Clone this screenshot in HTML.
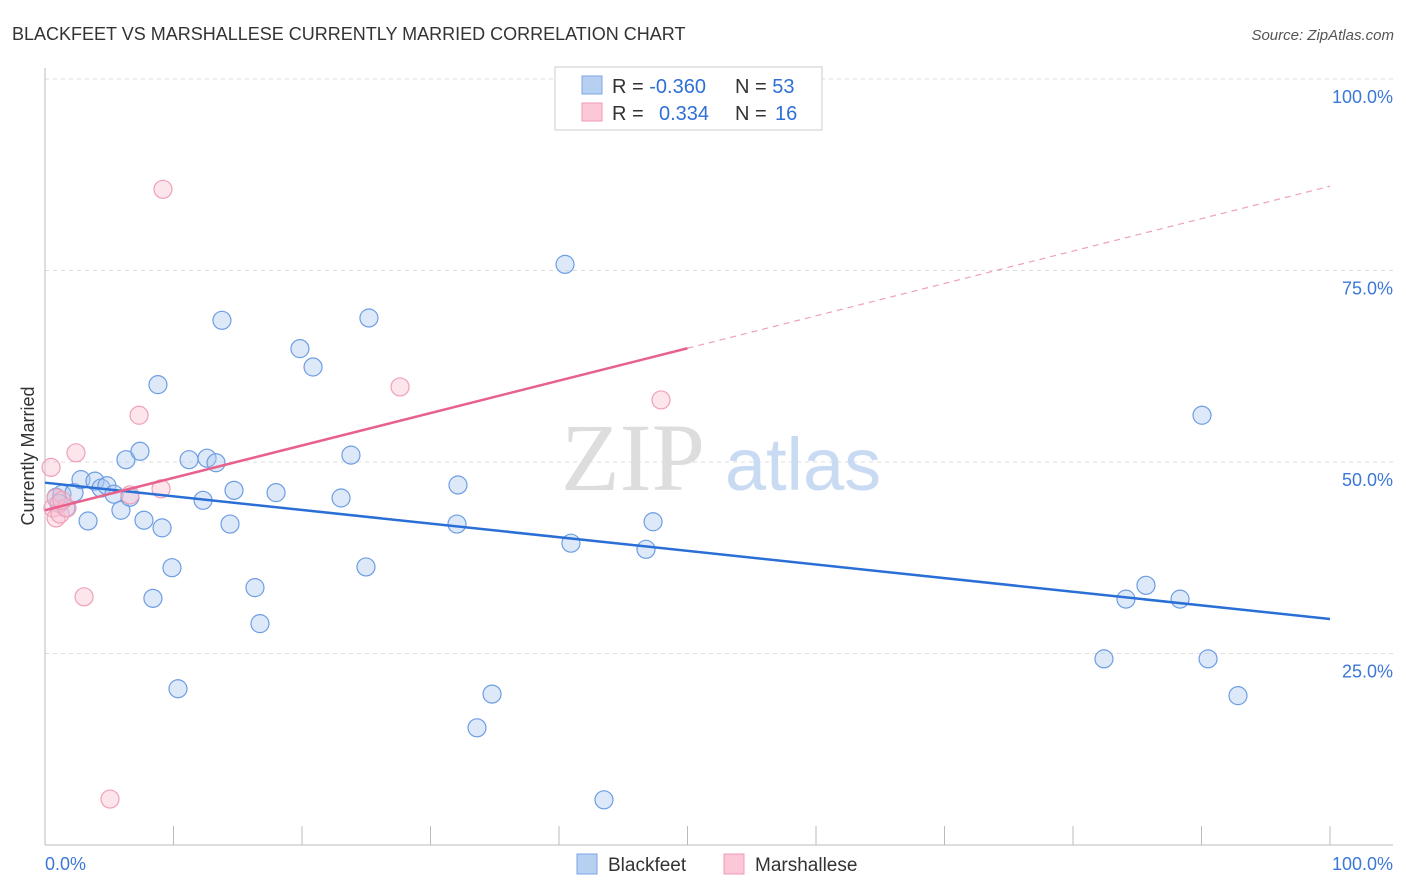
<!DOCTYPE html>
<html><head><meta charset="utf-8"><style>
body{margin:0;background:#fff;font-family:"Liberation Sans",sans-serif;}
svg{display:block}
</style></head><body>
<svg id="chart" width="1406" height="892">
<text x="12" y="40" font-size="18" fill="#333">BLACKFEET VS MARSHALLESE CURRENTLY MARRIED CORRELATION CHART</text>
<text x="1394" y="40" font-size="15" fill="#555" font-style="italic" text-anchor="end">Source: ZipAtlas.com</text>
<g id="grid"></g>
<text x="633" y="490" font-size="96" fill="#ddd" font-family="Liberation Serif,serif" text-anchor="middle">ZIP</text>
<text x="803" y="490" font-size="74" fill="#c8dbf3" text-anchor="middle">atlas</text>
<g id="axes"></g>
<g id="marks"></g>
<text transform="translate(34,456) rotate(-90)" font-size="18" fill="#333" text-anchor="middle">Currently Married</text>
<g>
<rect x="555" y="67" width="267" height="63" fill="#fff" stroke="#ccc"/>
<rect x="582" y="76" width="20" height="18" fill="#b7d0f1" stroke="#7aa6e6"/>
<rect x="582" y="103" width="20" height="18" fill="#fcc8d7" stroke="#f29ab4"/>
<text x="612" y="93" font-size="20" fill="#333">R = <tspan fill="#2f6fd6">-0.360</tspan></text>
<text x="735" y="93" font-size="20" fill="#333">N = <tspan fill="#2f6fd6">53</tspan></text>
<text x="612" y="120" font-size="20" fill="#333">R = <tspan x="659" fill="#2f6fd6">0.334</tspan></text>
<text x="735" y="120" font-size="20" fill="#333">N = <tspan x="775" fill="#2f6fd6">16</tspan></text>
</g>
<g>
<rect x="577" y="854" width="20" height="20" fill="#b7d0f1" stroke="#7aa6e6"/>
<text x="608" y="871" font-size="19" fill="#333">Blackfeet</text>
<rect x="724" y="854" width="20" height="20" fill="#fcc8d7" stroke="#f29ab4"/>
<text x="755" y="871" font-size="19" fill="#333">Marshallese</text>
</g>
</svg>
<script>
const yTicks=[25,50,75,100];
const yTickLabels=["25.0%","50.0%","75.0%","100.0%"];
const blueX=[0.86,1.32,1.09,1.63,2.26,2.80,3.35,3.89,4.36,4.82,5.37,5.91,6.30,6.61,7.39,7.70,8.40,8.79,9.11,9.88,10.35,11.21,12.30,12.61,13.31,13.77,14.40,14.71,16.34,16.73,17.98,19.84,20.86,23.04,23.81,24.98,25.21,32.06,32.14,33.62,34.79,40.47,40.93,43.50,46.77,47.32,82.41,84.12,85.68,88.33,90.04,90.51,92.84];
const blueY=[45.4,45.8,44.6,44.0,46.0,47.7,42.3,47.5,46.6,46.9,45.8,43.7,50.3,45.4,51.4,42.4,32.2,60.1,41.4,36.2,20.4,50.3,45.0,50.5,49.9,68.5,41.9,46.3,33.6,28.9,46.0,64.8,62.4,45.3,50.9,36.3,68.8,41.9,47.0,15.3,19.7,75.8,39.4,5.9,38.6,42.2,24.3,32.1,33.9,32.1,56.1,24.3,19.5];
const pinkX=[0.47,0.62,0.86,1.17,1.71,2.41,3.04,5.06,7.32,6.61,9.03,9.18,27.63,47.94,0.86,1.32];
const pinkY=[49.3,44.0,42.7,43.2,44.0,51.2,32.4,6.0,56.1,45.7,46.5,85.6,59.8,58.1,45.3,45.0];
const blueTrend=[47.3,29.5];
const pinkTrend=[43.7,86.0];
const pinkSolidEnd=50;
const NS="http://www.w3.org/2000/svg";
const X0=45,X1=1330,Y0=845,Y100=79;
const xs=v=>X0+(X1-X0)*v/100, ys=v=>Y0-(Y0-Y100)*v/100;
function mk(tag,attrs,parent){const e=document.createElementNS(NS,tag);for(const k in attrs)e.setAttribute(k,attrs[k]);parent.appendChild(e);return e;}
const grid=document.getElementById('grid'),axes=document.getElementById('axes'),marks=document.getElementById('marks');
yTicks.forEach((t,i)=>{
 const l=mk('line',{x1:X0,x2:1393,y1:ys(t),y2:ys(t),stroke:'#ddd','stroke-dasharray':'4,4'},grid);
 
 
 const tx=mk('text',{x:1393,y:ys(t)+24,'font-size':18,fill:'#3b78d8','text-anchor':'end'},axes);
 tx.textContent=yTickLabels[i];
 
 
});
const ya=mk('line',{x1:X0,x2:X0,y1:68,y2:Y0,stroke:'#bbb'},axes);


const xa=mk('line',{x1:X0,x2:1393,y1:Y0,y2:Y0,stroke:'#bbb'},axes);


for(let i=0;i<=10;i++){
 const tk=mk('line',{x1:xs(i*10),x2:xs(i*10),y1:826,y2:Y0,stroke:'#bbb'},axes);
 
 
}
const xl0=mk('text',{x:45,y:870,'font-size':18,fill:'#3b78d8'},axes);xl0.textContent='0.0%';


const xl1=mk('text',{x:1393,y:870,'font-size':18,fill:'#3b78d8','text-anchor':'end'},axes);xl1.textContent='100.0%';


blueX.forEach((x,i)=>{
 const c=mk('circle',{cx:xs(x),cy:ys(blueY[i]),r:9,fill:'rgba(170,200,240,0.4)',stroke:'#6d9de3','stroke-width':1.2},marks);
 
 
});
pinkX.forEach((x,i)=>{
 const c=mk('circle',{cx:xs(x),cy:ys(pinkY[i]),r:9,fill:'rgba(250,190,208,0.4)',stroke:'#f0a0b8','stroke-width':1.2},marks);
 
 
});
const bt=mk('line',{x1:xs(0),y1:ys(blueTrend[0]),x2:xs(100),y2:ys(blueTrend[1]),stroke:'#2a6fd6','stroke-width':2.5},marks);


const pm=pinkTrend[0]+(pinkTrend[1]-pinkTrend[0])*pinkSolidEnd/100;
const pt=mk('line',{x1:xs(0),y1:ys(pinkTrend[0]),x2:xs(pinkSolidEnd),y2:ys(pm),stroke:'#e8608c','stroke-width':2.5},marks);


const pd=mk('line',{x1:xs(pinkSolidEnd),y1:ys(pm),x2:xs(100),y2:ys(pinkTrend[1]),stroke:'#eea0b8','stroke-width':1.2,'stroke-dasharray':'6,5'},marks);


</script>
</body></html>
